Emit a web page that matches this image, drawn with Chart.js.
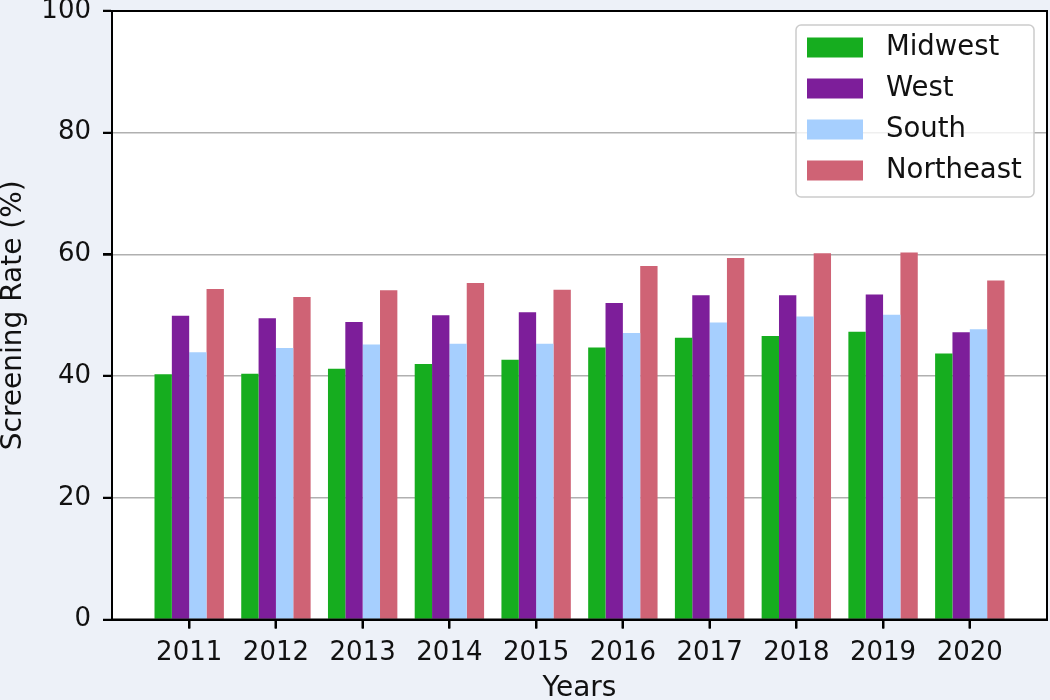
<!DOCTYPE html>
<html>
<head>
<meta charset="utf-8">
<script src="https://cdn.jsdelivr.net/npm/chart.js@4.4.0/dist/chart.umd.min.js"></script>
<style>
  html, body { margin: 0; padding: 0; background: #edf1f8; }
  #wrap { width: 1050px; height: 700px; }
</style>
</head>
<body>
<div id="wrap"><canvas id="myChart" width="1050" height="700"></canvas></div>
<script>
const years = [2011, 2012, 2013, 2014, 2015, 2016, 2017, 2018, 2019, 2020];
const midwest = [40.3, 40.4, 41.2, 42.0, 42.7, 44.7, 46.3, 46.6, 47.3, 43.7];
const west = [49.9, 49.5, 48.9, 50.0, 50.5, 52.0, 53.3, 53.3, 53.4, 47.2];
const south = [43.9, 44.6, 45.2, 45.3, 45.3, 47.1, 48.8, 49.8, 50.1, 47.7];
const northeast = [54.3, 53.0, 54.1, 55.3, 54.2, 58.1, 59.4, 60.2, 60.3, 55.7];
const yTicks = [0, 20, 40, 60, 80, 100];

const FONT = "'DejaVu Sans', sans-serif";
const TICK_LEN = 9;

const toPoints = (vals) => years.map((yr, i) => ({ x: yr, y: vals[i] }));

// background, white plot area, box spines, tick marks and the legend
const framePlugin = {
  id: 'frame',
  beforeDraw(chart) {
    const { ctx, chartArea: a } = chart;
    ctx.save();
    ctx.fillStyle = '#edf1f8';
    ctx.fillRect(0, 0, chart.width, chart.height);
    ctx.fillStyle = '#ffffff';
    ctx.fillRect(a.left, a.top, a.right - a.left, a.bottom - a.top);
    ctx.restore();
  },
  afterDraw(chart) {
    const { ctx, chartArea: a, scales } = chart;
    ctx.save();
    ctx.strokeStyle = '#000';
    ctx.lineWidth = 2;
    ctx.strokeRect(a.left, a.top, a.right - a.left, a.bottom - a.top);

    // tick marks
    ctx.beginPath();
    years.forEach(v => {
      const px = Math.round(scales.x.getPixelForValue(v));
      ctx.moveTo(px, a.bottom);
      ctx.lineTo(px, a.bottom + TICK_LEN);
    });
    yTicks.forEach(v => {
      const py = Math.round(scales.y.getPixelForValue(v));
      ctx.moveTo(a.left, py);
      ctx.lineTo(a.left - TICK_LEN, py);
    });
    ctx.stroke();

    // legend
    const bx = 796, by = 25, bw = 238, bh = 172;
    ctx.fillStyle = 'rgba(255,255,255,0.8)';
    ctx.strokeStyle = '#cccccc';
    ctx.lineWidth = 1.5;
    ctx.beginPath();
    ctx.roundRect(bx, by, bw, bh, 5);
    ctx.fill();
    ctx.stroke();
    ctx.font = '27.5px ' + FONT;
    ctx.textBaseline = 'middle';
    chart.data.datasets.forEach((ds, i) => {
      const cy = 47.5 + i * 41;
      ctx.fillStyle = ds.backgroundColor;
      ctx.fillRect(807, cy - 10, 56, 20);
      ctx.fillStyle = '#111';
      ctx.fillText(ds.label, 886, cy);
    });
    ctx.restore();
  }
};

const ctx = document.getElementById('myChart').getContext('2d');
const myChart = new Chart(ctx, {
  type: 'bar',
  data: {
    datasets: [
      { label: 'Midwest', data: toPoints(midwest), backgroundColor: '#16ad1f' },
      { label: 'West', data: toPoints(west), backgroundColor: '#7d1e9a' },
      { label: 'South', data: toPoints(south), backgroundColor: '#a6cffe' },
      { label: 'Northeast', data: toPoints(northeast), backgroundColor: '#cf6375' }
    ]
  },
  options: {
    responsive: false,
    animation: false,
    devicePixelRatio: 1,
    layout: { padding: { top: 11, right: 3, left: 0, bottom: 0 } },
    datasets: { bar: { categoryPercentage: 0.8, barPercentage: 1.0 } },
    plugins: {
      legend: { display: false },
      tooltip: { enabled: false }
    },
    scales: {
      x: {
        type: 'linear',
        min: 2010.11,
        max: 2020.89,
        offset: false,
        afterBuildTicks: (axis) => { axis.ticks = years.map(v => ({ value: v })); },
        afterFit: (axis) => {
          axis.height = 80.5;
          axis.paddingLeft = 0;
          axis.paddingRight = 0;
        },
        grid: { display: true, offset: false, drawOnChartArea: false, tickLength: TICK_LEN, tickColor: '#000', tickWidth: 2 },
        border: { display: true, color: '#000', width: 2 },
        ticks: {
          autoSkip: false,
          maxRotation: 0,
          padding: 9,
          color: '#111',
          font: { family: FONT, size: 26 },
          callback: (v) => String(v)
        },
        title: {
          display: true,
          text: 'Years',
          color: '#111',
          font: { family: FONT, size: 28, lineHeight: 1 },
          padding: { top: 0, bottom: -3 }
        }
      },
      y: {
        min: 0,
        max: 100,
        afterBuildTicks: (axis) => { axis.ticks = yTicks.map(v => ({ value: v })); },
        afterFit: (axis) => {
          axis.width = 112;
          axis.paddingTop = 0;
          axis.paddingBottom = 0;
        },
        grid: { color: '#b0b0b0', lineWidth: 1.5, tickLength: TICK_LEN, tickColor: '#000', tickWidth: 2 },
        border: { display: true, color: '#000', width: 2 },
        ticks: {
          padding: 12,
          color: '#111',
          font: { family: FONT, size: 26 }
        },
        title: {
          display: true,
          text: 'Screening Rate (%)',
          color: '#111',
          font: { family: FONT, size: 28, lineHeight: 1 },
          padding: { top: 0, bottom: 0 }
        }
      }
    }
  },
  plugins: [framePlugin]
});
</script>
</body>
</html>
